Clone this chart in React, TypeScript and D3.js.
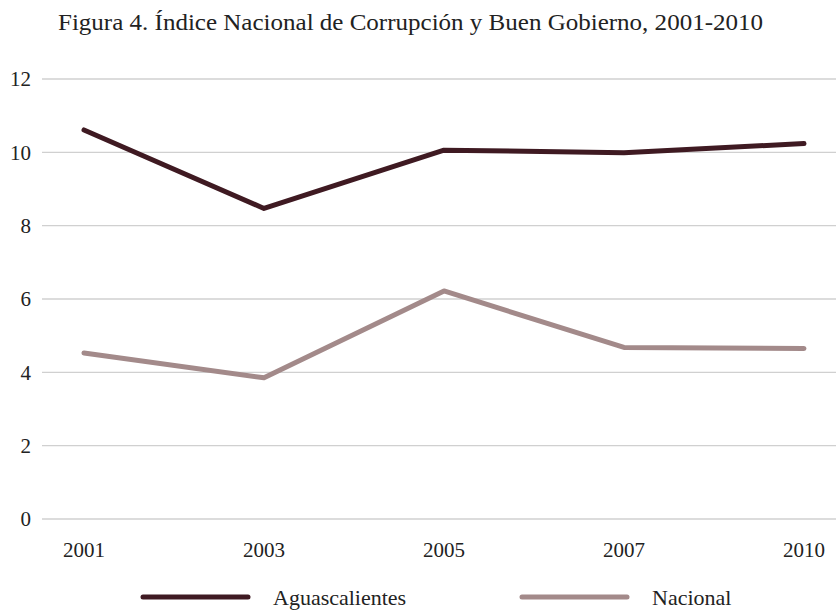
import React from 'react';
import * as d3 from 'd3';

const years = ['2001', '2003', '2005', '2007', '2010'];
const aguascalientes = [10.61, 8.47, 10.06, 9.99, 10.24];
const nacional = [4.53, 3.85, 6.22, 4.68, 4.65];
const yTicks = [0, 2, 4, 6, 8, 10, 12];

const seriesList = [
  { name: 'Aguascalientes', values: aguascalientes, color: '#3f1a22' },
  { name: 'Nacional', values: nacional, color: '#a38a8a' },
];

const W = 836;
const H = 610;
const font = '"Liberation Serif", "DejaVu Serif", serif';

const App = () => {
  const x = d3.scalePoint<string>().domain(years).range([84, 804]);
  const y = d3.scaleLinear().domain([0, 12]).range([519, 79]);
  const line = d3.line<number>()
    .x((d, i) => x(years[i]) as number)
    .y(d => y(d));

  const legendX = [143, 522];

  return (
    <svg width={W} height={H} style={{ position: 'absolute', left: 0, top: 0, background: '#fff' }}
      fontFamily={font}>
      <text x={58} y={30} fontSize={23} fill="#222" textLength={705} lengthAdjust="spacingAndGlyphs">
        Figura 4. Índice Nacional de Corrupción y Buen Gobierno, 2001-2010
      </text>
      {yTicks.map(t => (
        <g key={t}>
          <line x1={42} x2={836} y1={y(t)} y2={y(t)} stroke="#d0d0d0" strokeWidth={1.3} />
          <text x={31} y={y(t)} dy="0.35em" textAnchor="end" fontSize={21} fill="#222">{t}</text>
        </g>
      ))}
      {years.map(yr => (
        <text key={yr} x={x(yr)} y={550} dy="0.35em" textAnchor="middle" fontSize={21} fill="#222">{yr}</text>
      ))}
      {seriesList.map(s => (
        <path key={s.name} d={line(s.values) || ''} fill="none" stroke={s.color}
          strokeWidth={5} strokeLinejoin="round" strokeLinecap="round" />
      ))}
      {seriesList.map((s, i) => (
        <g key={s.name} transform={`translate(${legendX[i]},597)`}>
          <line x1={0} x2={105} y1={0} y2={0} stroke={s.color} strokeWidth={5} strokeLinecap="round" />
          <text x={130} y={0} dy="0.35em" fontSize={22} fill="#222">{s.name}</text>
        </g>
      ))}
    </svg>
  );
};

export default App;
